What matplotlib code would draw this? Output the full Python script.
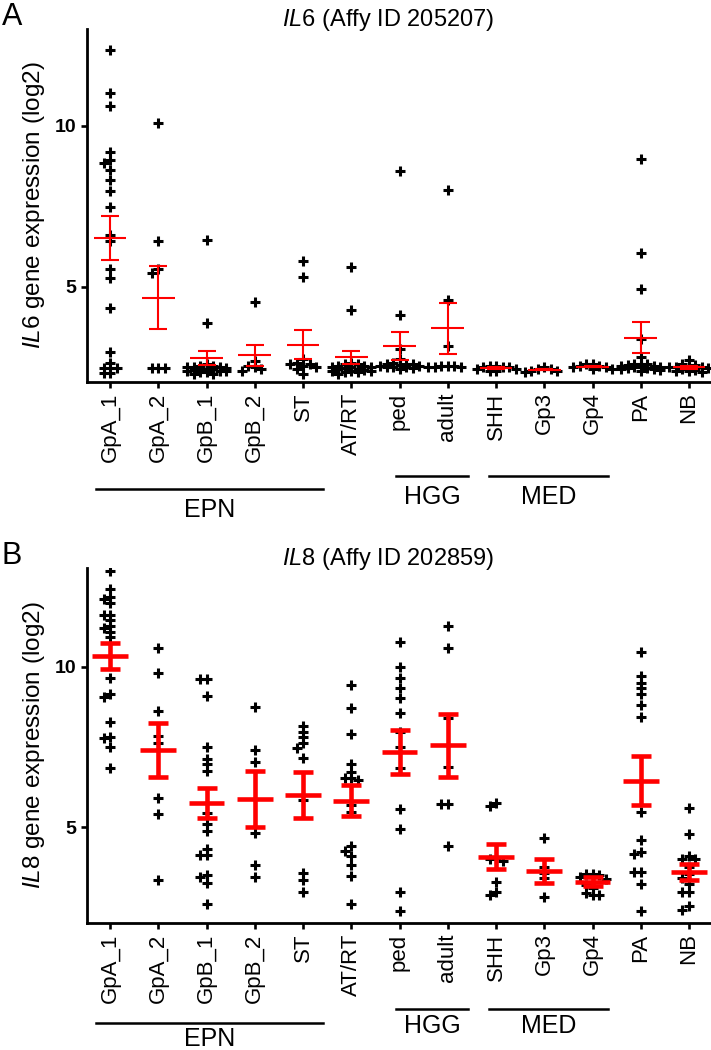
"""
IL6 / IL8 expression across brain tumour subgroups (Affymetrix, log2).
Scatter of samples with mean +/- SEM in red, two stacked panels.
"""

import numpy as np
import matplotlib
matplotlib.use('Agg')
from matplotlib import pyplot as plt
from matplotlib.lines import Line2D

plt.rcParams['font.family'] = ['Liberation Sans', 'DejaVu Sans']
plt.rcParams['mathtext.fontset'] = 'custom'
plt.rcParams['mathtext.it'] = 'Liberation Sans:italic'
plt.rcParams['mathtext.rm'] = 'Liberation Sans'

# --- Data ---
groups = ['GpA_1', 'GpA_2', 'GpB_1', 'GpB_2', 'ST', 'AT/RT', 'ped', 'adult',
          'SHH', 'Gp3', 'Gp4', 'PA', 'NB']

# IL6 (Affy ID 205207)
il6_gpa1 = [12.36, 11.02, 10.62, 9.2, 8.94, 8.85, 8.63, 8.32, 7.96, 7.49, 6.61,
            6.41, 5.56, 5.28, 4.34, 2.99, 2.65, 2.48, 2.48, 2.48, 2.32, 2.32]
il6_gpa2 = [10.08, 6.41, 5.55, 5.42, 2.48, 2.48, 2.48]
il6_gpb1 = [6.46, 3.87, 2.6, 2.55, 2.55, 2.5, 2.5, 2.5, 2.48, 2.45, 2.45, 2.45,
            2.42, 2.4, 2.4, 2.38, 2.35, 2.35, 2.3, 2.3]
il6_gpb2 = [4.54, 2.7, 2.55, 2.5, 2.45, 2.4]
il6_st = [5.79, 5.32, 2.75, 2.65, 2.6, 2.6, 2.55, 2.5, 2.45, 2.3]
il6_atrt = [5.63, 4.29, 2.65, 2.6, 2.6, 2.55, 2.55, 2.52, 2.5, 2.5, 2.48, 2.45,
            2.45, 2.42, 2.4, 2.4, 2.38, 2.35, 2.35, 2.3]
il6_ped = [8.61, 4.14, 3.06, 2.75, 2.65, 2.62, 2.6, 2.6, 2.58, 2.55, 2.55, 2.52,
           2.5, 2.5, 2.48, 2.45]
il6_adult = [8.01, 4.6, 3.17, 2.55, 2.55, 2.55, 2.52, 2.5, 2.5]
il6_shh = [2.55, 2.55, 2.5, 2.5, 2.5, 2.45, 2.45, 2.4, 2.4]
il6_gp3 = [2.5, 2.45, 2.45, 2.4, 2.4, 2.35]
il6_gp4 = [2.6, 2.6, 2.55, 2.55, 2.5, 2.5, 2.45, 2.45]
il6_pa = [8.98, 6.05, 4.94, 3.37, 2.84, 2.62, 2.6, 2.6, 2.58, 2.55, 2.55, 2.52,
          2.5, 2.5, 2.48, 2.48, 2.45, 2.45, 2.42, 2.4]
il6_nb = [2.72, 2.62, 2.58, 2.55, 2.52, 2.5, 2.5, 2.48, 2.45, 2.42, 2.4, 2.38,
          2.35]
il6_mean = [6.51, 4.67, 2.79, 2.88, 3.2, 2.82, 3.17, 3.71, 2.48, 2.43, 2.53,
            3.43, 2.5]
il6_sem = [0.68, 0.97, 0.21, 0.33, 0.45, 0.2, 0.43, 0.78, 0.03, 0.02, 0.03,
           0.48, 0.04]

# IL8 (Affy ID 202859)
il8_gpa1 = [12.99, 12.41, 12.16, 12.1, 11.97, 11.61, 11.61, 11.45, 11.25, 11.2,
            11.09, 10.93, 9.64, 9.15, 9.05, 8.27, 7.82, 7.77, 7.49, 6.84]
il8_gpa2 = [10.59, 9.81, 8.62, 7.84, 7.63, 5.92, 5.4, 3.36]
il8_gpb1 = [9.62, 9.62, 9.1, 7.49, 7.13, 6.97, 6.76, 5.44, 5.09, 4.89, 4.31,
            4.14, 4.14, 3.51, 3.46, 3.26, 2.61]
il8_gpb2 = [8.75, 7.39, 7.02, 4.81, 3.83, 3.44]
il8_st = [8.15, 7.98, 7.82, 7.63, 7.48, 7.15, 5.85, 3.59, 3.36, 3.0]
il8_atrt = [9.43, 8.71, 7.91, 6.97, 6.71, 6.52, 6.52, 6.48, 5.69, 5.49, 4.42,
            4.27, 4.11, 3.83, 3.48, 2.61]
il8_ped = [10.78, 10.0, 9.64, 9.33, 9.02, 8.55, 7.95, 7.51, 6.84, 5.56, 4.94,
           2.97, 2.4]
il8_adult = [11.25, 10.59, 8.39, 6.87, 5.72, 5.72, 4.43]
il8_shh = [5.77, 5.66, 4.05, 4.0, 3.95, 3.31, 3.0, 2.89]
il8_gp3 = [4.66, 3.75, 3.57, 3.41, 2.83]
il8_gp4 = [3.55, 3.55, 3.5, 3.45, 3.4, 3.3, 3.2, 3.1, 2.95, 2.9, 2.9]
il8_pa = [10.44, 9.71, 9.5, 9.33, 9.15, 8.81, 8.44, 5.49, 4.61, 4.24, 4.17,
          3.62, 3.62, 3.23, 2.4]
il8_nb = [5.59, 4.79, 4.11, 4.0, 4.0, 3.75, 3.55, 3.41, 3.23, 2.97, 2.97, 2.56,
          2.41]
il8_mean = [10.33, 7.4, 5.75, 5.89, 6.0, 5.83, 7.34, 7.56, 4.08, 3.65, 3.31,
            6.45, 3.62]
il8_sem = [0.41, 0.84, 0.46, 0.87, 0.71, 0.47, 0.68, 0.98, 0.39, 0.37, 0.15,
           0.76, 0.25]

il6_points = [il6_gpa1, il6_gpa2, il6_gpb1, il6_gpb2, il6_st, il6_atrt, il6_ped,
              il6_adult, il6_shh, il6_gp3, il6_gp4, il6_pa, il6_nb]
il8_points = [il8_gpa1, il8_gpa2, il8_gpb1, il8_gpb2, il8_st, il8_atrt, il8_ped,
              il8_adult, il8_shh, il8_gp3, il8_gp4, il8_pa, il8_nb]

# --- Layout (pixel helpers) ---
W, H = 711, 1050
fig = plt.figure(figsize=(W / 100, H / 100), dpi=100)


def fx(px):
    return px / W


def fy(py):
    return 1 - py / H


def swarm(vals, ax, step_px=6.5, min_dy=5.0, max_k=3):
    # spread nearly-equal values sideways on a small grid, at most max_k steps
    xpp = ax.bbox.width / (ax.get_xlim()[1] - ax.get_xlim()[0])
    ypp = ax.bbox.height / (ax.get_ylim()[1] - ax.get_ylim()[0])
    vals = np.asarray(vals, dtype=float)
    cands = [0]
    for k in range(1, max_k + 1):
        cands += [-k, k]
    placed = []
    offs = np.zeros(len(vals))
    for i in np.argsort(vals)[::-1]:
        y = vals[i] * ypp
        best, best_gap = 0, -1.0
        for c in cands:
            gaps = [abs(py - y) for pc, py in placed if pc == c]
            gap = min(gaps) if gaps else 1e9
            if gap >= min_dy:
                best = c
                break
            if gap > best_gap + 0.5:
                best, best_gap = c, gap
        placed.append((best, y))
        offs[i] = best * step_px / xpp
    return offs


def panel(top, bottom, points, mean, sem, ylim, gene, affy, letter,
          lw_err, mean_half, cap, lines_y, text_y):
    ax = fig.add_axes([fx(87), fy(bottom), 1 - fx(87), (bottom - top) / H])
    ax.set_xlim(-0.477, 12.456)
    ax.set_ylim(*ylim)
    for s in ['top', 'right']:
        ax.spines[s].set_visible(False)
    for s in ['left', 'bottom']:
        ax.spines[s].set_linewidth(2.0)
    ax.set_yticks([5, 10])
    ax.set_yticklabels(['5', '10'], fontsize=14, fontweight='bold')
    ax.set_xticks(range(len(groups)))
    ax.set_xticklabels(groups, rotation=90, fontsize=16)
    ax.tick_params(length=4.5, width=1.9, pad=3)
    ax.set_ylabel(r'$\it{' + gene + '}$ gene expression (log2)', fontsize=17.5)
    ax.yaxis.set_label_coords((47 - 87) / (W - 87), 0.5)

    for i, vals in enumerate(points):
        xs = i + swarm(vals, ax)
        ax.plot(xs, vals, linestyle='none', marker='+', ms=7, mew=2.2,
                color='black', zorder=2)
    x = np.arange(len(groups))
    ax.errorbar(x, mean, yerr=sem, fmt='none', ecolor='#ff0000',
                elinewidth=lw_err, capsize=cap, capthick=lw_err, zorder=3)
    ax.hlines(mean, x - mean_half, x + mean_half, color='#ff0000',
              linewidth=lw_err, zorder=3)

    fig.text(fx(388), fy(top - 9), r'$\it{' + gene + '}$ (Affy ID ' + affy + ')',
             fontsize=17, ha='center', va='center')
    fig.text(fx(2), fy(top - 12), letter, fontsize=22, ha='left', va='center')

    # group brackets under the tick labels
    to_fig = lambda d: fig.transFigure.inverted().transform(
        ax.transData.transform((d, 0)))[0]
    brackets = [('EPN', -0.29, 4.41, lines_y[0], text_y[0]),
                ('HGG', 5.93, 7.42, lines_y[1], text_y[1]),
                ('MED', 7.86, 10.32, lines_y[1], text_y[1])]
    for name, a, b, ly, ty in brackets:
        fig.add_artist(Line2D([to_fig(a), to_fig(b)], [fy(ly), fy(ly)],
                              transform=fig.transFigure, color='black',
                              linewidth=1.8))
        fig.text((to_fig(a) + to_fig(b)) / 2, fy(ty), name, fontsize=18,
                 ha='center', va='center')
    return ax


panel(29, 382, il6_points, il6_mean, il6_sem, (2.05, 13.0), 'IL6', '205207',
      'A', 1.5, 0.34, 6.5, (489, 476), (510, 497))
panel(568, 923, il8_points, il8_mean, il8_sem, (2.02, 13.07), 'IL8', '202859',
      'B', 3.3, 0.37, 7.2, (1023, 1009), (1039, 1026))

fig.savefig('out.png', dpi=100)
